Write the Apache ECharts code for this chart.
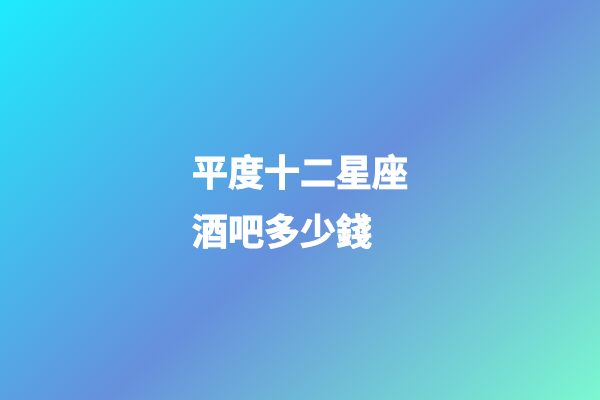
<!DOCTYPE html>
<html>
<head>
<meta charset="utf-8">
<script src="https://cdn.jsdelivr.net/npm/echarts@6/dist/echarts.min.js"></script>
<style>
html,body{margin:0;padding:0;background:#fff;}
#main{width:600px;height:400px;}
</style>
</head>
<body>
<div id="main"></div>
<script>
// Text lines
var titleLines = ['平度十二星座', '酒吧多少錢'];
// Gradient colour stops
var gradStops = [0, 0.53, 1];
var gradColors = ['#1eebfe', '#6690dc', '#7bf8d0'];

var chart = echarts.init(document.getElementById('main'), null, {renderer: 'canvas'});
var stops = gradStops.map(function (o, i) { return {offset: o, color: gradColors[i]}; });
var elements = [{
  type: 'rect',
  left: 0, top: 0, z: 0,
  shape: {x: 0, y: 0, width: 600, height: 400},
  style: {
    fill: new echarts.graphic.LinearGradient(0, 0, 460, 523, stops, true)
  },
  silent: true
}];
var lineY = [172, 231];
titleLines.forEach(function (t, i) {
  elements.push({
    type: 'text',
    z: 10,
    x: 192,
    y: lineY[i],
    style: {
      text: t,
      fill: '#ffffff',
      stroke: '#ffffff',
      lineWidth: 1,
      font: 'bold 36px "Noto Sans CJK TC", "Noto Sans CJK SC", sans-serif',
      textAlign: 'left',
      textVerticalAlign: 'middle'
    }
  });
});
chart.setOption({
  animation: false,
  graphic: {elements: elements}
});
</script>
</body>
</html>
